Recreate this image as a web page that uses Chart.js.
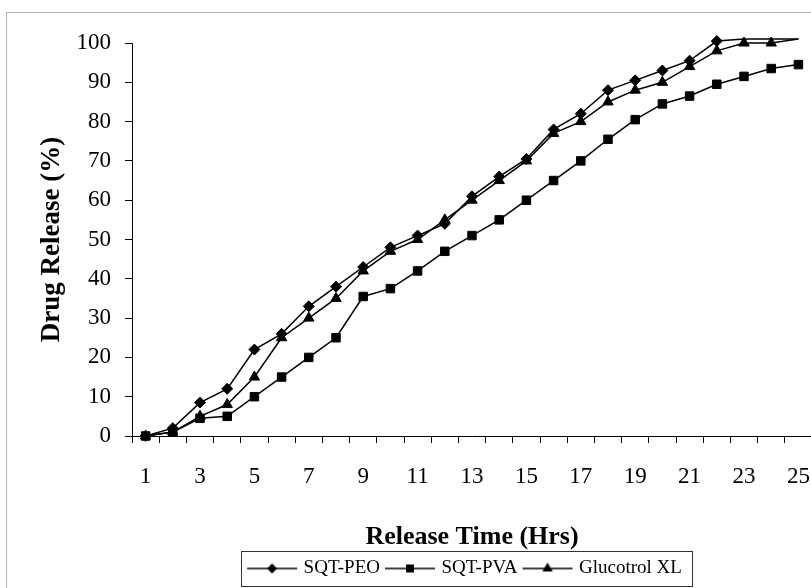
<!DOCTYPE html>
<html lang="en">
<head>
<meta charset="UTF-8">
<title>Drug Release</title>
<script src="https://cdn.jsdelivr.net/npm/chart.js@4.4.0/dist/chart.umd.min.js"></script>
<style>
  html, body { margin: 0; padding: 0; background: #fff; }
  #wrap { position: relative; width: 811px; height: 588px; overflow: hidden; }
  #frame { position: absolute; left: 6px; top: 12px; width: 900px; height: 700px; border: 1px solid #b4b4b4; }
  canvas { position: absolute; left: 0; top: 0; }
</style>
</head>
<body>
<div id="wrap">
  <div id="frame"></div>
  <!-- a bit wider than the window: the plot runs off the right edge like the original -->
  <canvas id="releaseChart" width="819" height="588"></canvas>
</div>
<script>
const hours = ["1", "2", "3", "4", "5", "6", "7", "8", "9", "10", "11", "12", "13",
  "14", "15", "16", "17", "18", "19", "20", "21", "22", "23", "24", "25"]
const sqtPeo = [0, 2, 8.5, 12, 22, 26, 33, 38, 43, 48, 51, 54, 61, 66, 70.5, 78, 82, 88, 90.5, 93, 95.5, 100.5, 101, 101, 101]
const sqtPva = [0, 1, 4.5, 5, 10, 15, 20, 25, 35.5, 37.5, 42, 47, 51, 55, 60, 65, 70, 75.5, 80.5, 84.5, 86.5, 89.5, 91.5, 93.5, 94.5]
const glucotrol = [0, 1, 5, 8, 15, 25, 30, 35, 42, 47, 50, 55, 60, 65, 70, 77, 80, 85, 88, 90, 94, 98, 100, 100, 101]
const yTicks = [0, 10, 20, 30, 40, 50, 60, 70, 80, 90, 100]

const serif = "'Liberation Serif', 'Times New Roman', serif"

// little line + marker pictures for the legend, like excel draws them
function legendPic(style, r) {
    const c = document.createElement("canvas")
    c.width = 54
    c.height = 16
    const ctx = c.getContext("2d")
    ctx.strokeStyle = "#000"
    ctx.fillStyle = "#000"
    ctx.lineWidth = 1.5
    ctx.beginPath()
    ctx.moveTo(2, 8)
    ctx.lineTo(52, 8)
    ctx.stroke()
    Chart.helpers.drawPoint(ctx, { pointStyle: style, radius: r, rotation: 0, borderWidth: 1 }, 27, 8)
    return c
}

// box round the legend, and nudge the legend a little to the left
const legendBox = {
    id: "legendBox",
    afterUpdate(chart) {
        const lg = chart.legend
        lg.left -= 6
        lg.right -= 6
        if (lg.legendHitBoxes) lg.legendHitBoxes.forEach(h => { h.left -= 6 })
    },
    afterDraw(chart) {
        const lg = chart.legend
        const hb = lg.legendHitBoxes
        if (!hb || !hb.length) return
        const last = hb[hb.length - 1]
        const ctx = chart.ctx
        ctx.save()
        ctx.strokeStyle = "#333"
        ctx.lineWidth = 1
        ctx.strokeRect(Math.round(hb[0].left - 9) + 0.5, Math.round(lg.top) + 0.5,
            Math.round(last.left + last.width - hb[0].left + 19), Math.round(lg.height) - 2)
        ctx.restore()
    }
}

function hideTail(from) {
    return ctx => ctx.dataIndex >= from ? 0 : ctx.dataset.baseRadius
}

const sets = [
    { label: "SQT-PEO", data: sqtPeo, pointStyle: "rectRot", baseRadius: 5.5, pic: legendPic("rectRot", 4), tail: 22 },
    { label: "SQT-PVA", data: sqtPva, pointStyle: "rect", baseRadius: 6, pic: legendPic("rect", 4.5), tail: 99 },
    { label: "Glucotrol XL", data: glucotrol, pointStyle: "triangle", baseRadius: 6, pic: legendPic("triangle", 4.5), tail: 24 }
]

new Chart("releaseChart", {
    type: "line",
    data: {
        labels: hours,
        datasets: sets.map(s => ({
            label: s.label,
            data: s.data,
            clip: false,
            borderColor: "#000",
            backgroundColor: "#000",
            borderWidth: 1.5,
            pointStyle: s.pointStyle,
            baseRadius: s.baseRadius,
            pointRadius: hideTail(s.tail),
            pointBorderWidth: 1,
            pointBackgroundColor: "#000",
            pointBorderColor: "#000",
            tension: 0,
            fill: false,
            pic: s.pic
        }))
    },
    options: {
        responsive: false,
        animation: false,
        devicePixelRatio: 1,
        layout: { padding: { top: 43, left: 0, right: 0, bottom: 0 } },
        plugins: {
            tooltip: { enabled: false },
            legend: {
                position: "bottom",
                fullSize: false,
                labels: {
                    color: "#000",
                    font: { family: serif, size: 19 },
                    usePointStyle: true,
                    pointStyleWidth: 44,
                    padding: 8,
                    generateLabels: chart => chart.data.datasets.map((ds, i) => ({
                        text: ds.label,
                        pointStyle: ds.pic,
                        fillStyle: "#000",
                        strokeStyle: "#000",
                        lineWidth: 0,
                        fontColor: "#000",
                        hidden: false,
                        datasetIndex: i
                    }))
                }
            }
        },
        scales: {
            x: {
                offset: true,
                afterFit: s => {
                    s.height = 115
                    s.paddingLeft = 0
                    s.paddingRight = 0
                },
                grid: { offset: true, drawOnChartArea: false, drawTicks: true, tickLength: 7, color: "#000" },
                border: { display: true, color: "#000", width: 1 },
                ticks: {
                    autoSkip: false,
                    maxRotation: 0,
                    padding: 0,
                    color: "#000",
                    // tall line height pushes the numbers down, like in the original
                    font: { family: serif, size: 23, lineHeight: 2.94 },
                    callback: (v, i) => i % 2 === 0 ? hours[i] : ""
                },
                title: {
                    display: true,
                    text: "Release Time (Hrs)",
                    color: "#000",
                    font: { family: serif, size: 26, weight: "bold" },
                    padding: { top: 0, bottom: -2 }
                }
            },
            y: {
                min: 0,
                max: 100,
                afterFit: s => {
                    s.width = 132
                    s.paddingTop = 0
                    s.paddingBottom = 0
                },
                afterBuildTicks: s => { s.ticks = yTicks.map(v => ({ value: v })) },
                grid: { drawOnChartArea: false, drawTicks: true, tickLength: 7, color: "#000" },
                border: { display: true, color: "#000", width: 1 },
                ticks: {
                    padding: 14,
                    color: "#000",
                    font: { family: serif, size: 23 }
                },
                title: {
                    display: true,
                    text: "Drug Release (%)",
                    color: "#000",
                    font: { family: serif, size: 27, weight: "bold" },
                    padding: { top: 36, bottom: 0 }
                }
            }
        }
    },
    plugins: [legendBox]
})
</script>
</body>
</html>
